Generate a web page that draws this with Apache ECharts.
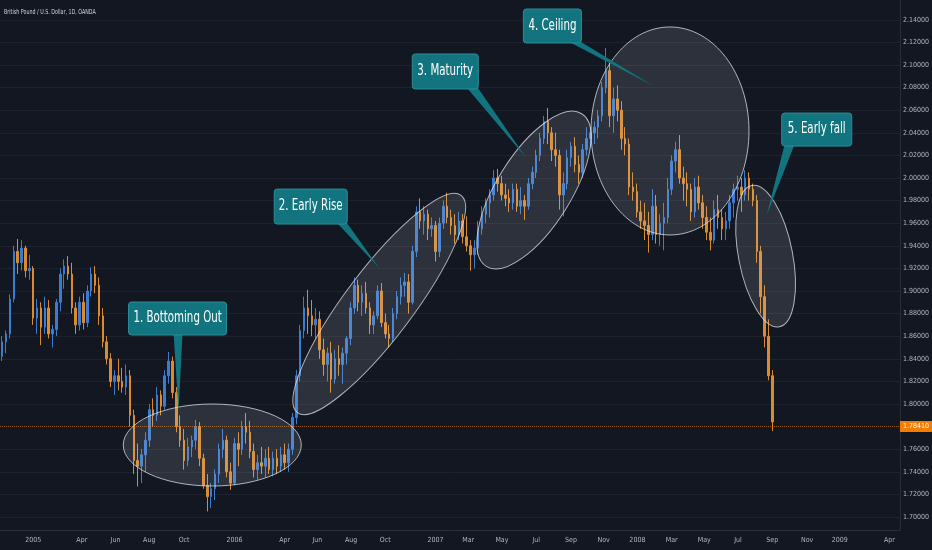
<!DOCTYPE html>
<html>
<head>
<meta charset="utf-8">
<script src="https://cdn.jsdelivr.net/npm/echarts@6/dist/echarts.min.js"></script>
<style>
  html, body { margin: 0; padding: 0; background: #131722; }
  #chart { width: 932px; height: 550px; }
</style>
</head>
<body>
<div id="chart"></div>
<script>
// GBP/USD, weekly bars (first bar = week of 2004-11-08)
const firstWeek = [2004, 10, 8];

const open = [
  1.842, 1.855, 1.862, 1.893, 1.935, 1.925, 1.938, 1.918, 1.920, 1.876,
  1.885, 1.868, 1.885, 1.862, 1.866, 1.890, 1.915, 1.922, 1.915, 1.885,
  1.870, 1.890, 1.872, 1.900, 1.915, 1.905, 1.878, 1.855, 1.840, 1.820,
  1.825, 1.820, 1.815, 1.825, 1.790, 1.750, 1.745, 1.755, 1.768, 1.795,
  1.790, 1.808, 1.798, 1.825, 1.838, 1.810, 1.780, 1.768, 1.750, 1.762,
  1.768, 1.780, 1.752, 1.728, 1.718, 1.725, 1.738, 1.760, 1.768, 1.740,
  1.730, 1.765, 1.760, 1.780, 1.775, 1.758, 1.742, 1.748, 1.745, 1.752,
  1.742, 1.752, 1.745, 1.755, 1.748, 1.760, 1.788, 1.825, 1.865, 1.885,
  1.878, 1.870, 1.875, 1.848, 1.835, 1.845, 1.822, 1.840, 1.835, 1.845,
  1.858, 1.885, 1.905, 1.890, 1.898, 1.885, 1.870, 1.878, 1.900, 1.872,
  1.862, 1.858, 1.880, 1.895, 1.905, 1.908, 1.890, 1.935, 1.970, 1.962,
  1.968, 1.955, 1.958, 1.935, 1.960, 1.975, 1.965, 1.958, 1.950, 1.962,
  1.948, 1.940, 1.932, 1.938, 1.955, 1.968, 1.978, 1.985, 2.000, 1.995,
  1.985, 1.982, 1.978, 1.990, 1.975, 1.980, 1.975, 1.995, 2.005, 2.020,
  2.035, 2.050, 2.040, 2.025, 2.020, 1.985, 1.995, 2.018, 2.028, 2.012,
  2.005, 2.025, 2.035, 2.040, 2.045, 2.055, 2.080, 2.095, 2.055, 2.070,
  2.060, 2.035, 2.030, 1.992, 1.988, 1.970, 1.962, 1.958, 1.950, 1.975,
  1.950, 1.960, 1.965, 1.990, 2.015, 2.025, 2.000, 1.995, 1.990, 1.970,
  1.992, 1.978, 1.965, 1.952, 1.945, 1.972, 1.965, 1.955, 1.962, 1.978,
  1.990, 1.992, 1.985, 2.000, 1.990, 1.980, 1.935, 1.895, 1.860, 1.825
];
const close = [
  1.855, 1.862, 1.893, 1.935, 1.925, 1.938, 1.918, 1.920, 1.876, 1.885,
  1.868, 1.885, 1.862, 1.866, 1.890, 1.915, 1.922, 1.915, 1.885, 1.870,
  1.890, 1.872, 1.900, 1.915, 1.905, 1.878, 1.855, 1.840, 1.820, 1.825,
  1.820, 1.815, 1.825, 1.790, 1.750, 1.745, 1.755, 1.768, 1.795, 1.790,
  1.808, 1.798, 1.825, 1.838, 1.810, 1.780, 1.768, 1.750, 1.762, 1.768,
  1.780, 1.752, 1.728, 1.718, 1.725, 1.738, 1.760, 1.768, 1.740, 1.730,
  1.765, 1.760, 1.780, 1.775, 1.758, 1.742, 1.748, 1.745, 1.752, 1.742,
  1.752, 1.745, 1.755, 1.748, 1.760, 1.788, 1.825, 1.865, 1.885, 1.878,
  1.870, 1.875, 1.848, 1.835, 1.845, 1.822, 1.840, 1.835, 1.845, 1.858,
  1.885, 1.905, 1.890, 1.898, 1.885, 1.870, 1.878, 1.900, 1.872, 1.862,
  1.858, 1.880, 1.895, 1.905, 1.908, 1.890, 1.935, 1.970, 1.962, 1.968,
  1.955, 1.958, 1.935, 1.960, 1.975, 1.965, 1.958, 1.950, 1.962, 1.948,
  1.940, 1.932, 1.938, 1.955, 1.968, 1.978, 1.985, 2.000, 1.995, 1.985,
  1.982, 1.978, 1.990, 1.975, 1.980, 1.975, 1.995, 2.005, 2.020, 2.035,
  2.050, 2.040, 2.025, 2.020, 1.985, 1.995, 2.018, 2.028, 2.012, 2.005,
  2.025, 2.035, 2.040, 2.045, 2.055, 2.080, 2.095, 2.055, 2.070, 2.060,
  2.035, 2.030, 1.992, 1.988, 1.970, 1.962, 1.958, 1.950, 1.975, 1.950,
  1.960, 1.965, 1.990, 2.015, 2.025, 2.000, 1.995, 1.990, 1.970, 1.992,
  1.978, 1.965, 1.952, 1.945, 1.972, 1.965, 1.955, 1.962, 1.978, 1.990,
  1.992, 1.985, 2.000, 1.990, 1.980, 1.935, 1.895, 1.860, 1.825, 1.7841
];
const low = [
  1.838, 1.845, 1.858, 1.890, 1.915, 1.918, 1.912, 1.910, 1.870, 1.862,
  1.852, 1.862, 1.858, 1.850, 1.860, 1.882, 1.902, 1.910, 1.880, 1.862,
  1.865, 1.866, 1.868, 1.895, 1.898, 1.870, 1.850, 1.835, 1.815, 1.808,
  1.812, 1.810, 1.808, 1.780, 1.738, 1.727, 1.730, 1.740, 1.762, 1.780,
  1.785, 1.790, 1.795, 1.818, 1.805, 1.775, 1.762, 1.742, 1.745, 1.753,
  1.760, 1.745, 1.725, 1.705, 1.708, 1.715, 1.730, 1.752, 1.735, 1.724,
  1.728, 1.745, 1.755, 1.765, 1.752, 1.735, 1.733, 1.738, 1.735, 1.738,
  1.736, 1.738, 1.740, 1.742, 1.740, 1.755, 1.782, 1.820, 1.858, 1.862,
  1.860, 1.858, 1.840, 1.825, 1.820, 1.810, 1.818, 1.825, 1.818, 1.835,
  1.852, 1.880, 1.882, 1.878, 1.880, 1.862, 1.862, 1.875, 1.868, 1.858,
  1.850, 1.855, 1.875, 1.888, 1.895, 1.880, 1.888, 1.930, 1.955, 1.950,
  1.945, 1.948, 1.926, 1.930, 1.955, 1.960, 1.950, 1.942, 1.945, 1.942,
  1.935, 1.918, 1.920, 1.932, 1.950, 1.960, 1.965, 1.980, 1.988, 1.980,
  1.975, 1.970, 1.972, 1.970, 1.968, 1.963, 1.972, 1.990, 2.000, 2.015,
  2.030, 2.030, 2.015, 2.010, 1.972, 1.966, 1.990, 2.010, 2.005, 1.995,
  2.000, 2.020, 2.027, 2.030, 2.035, 2.050, 2.075, 2.045, 2.040, 2.050,
  2.025, 2.020, 1.985, 1.980, 1.965, 1.955, 1.945, 1.934, 1.945, 1.942,
  1.940, 1.936, 1.960, 1.985, 2.005, 1.995, 1.980, 1.975, 1.962, 1.965,
  1.972, 1.955, 1.945, 1.936, 1.942, 1.955, 1.945, 1.945, 1.955, 1.965,
  1.980, 1.970, 1.980, 1.980, 1.975, 1.925, 1.880, 1.850, 1.821, 1.776
];
const high = [
  1.860, 1.865, 1.897, 1.940, 1.946, 1.945, 1.940, 1.932, 1.922, 1.893,
  1.890, 1.895, 1.892, 1.870, 1.893, 1.920, 1.928, 1.931, 1.925, 1.890,
  1.895, 1.898, 1.905, 1.921, 1.922, 1.912, 1.885, 1.860, 1.845, 1.830,
  1.840, 1.832, 1.835, 1.830, 1.795, 1.765, 1.760, 1.775, 1.800, 1.805,
  1.815, 1.812, 1.830, 1.846, 1.842, 1.815, 1.790, 1.778, 1.770, 1.772,
  1.786, 1.784, 1.756, 1.738, 1.730, 1.742, 1.765, 1.778, 1.772, 1.748,
  1.770, 1.775, 1.785, 1.792, 1.785, 1.765, 1.755, 1.762, 1.760, 1.762,
  1.758, 1.760, 1.762, 1.765, 1.765, 1.792, 1.830, 1.870, 1.895, 1.901,
  1.892, 1.885, 1.882, 1.858, 1.850, 1.855, 1.848, 1.852, 1.850, 1.860,
  1.890, 1.912, 1.910, 1.905, 1.908, 1.890, 1.882, 1.905, 1.907, 1.880,
  1.870, 1.885, 1.900, 1.912, 1.916, 1.915, 1.940, 1.975, 1.982, 1.975,
  1.972, 1.965, 1.962, 1.965, 1.980, 1.987, 1.972, 1.968, 1.970, 1.968,
  1.966, 1.945, 1.945, 1.962, 1.975, 1.982, 1.990, 2.007, 2.008, 2.002,
  1.995, 1.990, 1.995, 1.995, 1.992, 1.985, 2.000, 2.010, 2.025, 2.040,
  2.055, 2.062, 2.045, 2.040, 2.025, 2.005, 2.025, 2.032, 2.036, 2.020,
  2.030, 2.045, 2.045, 2.050, 2.060, 2.085, 2.115, 2.105, 2.080, 2.082,
  2.068, 2.045, 2.035, 2.005, 1.995, 1.980, 1.978, 1.970, 1.990, 1.985,
  1.968, 1.978, 2.000, 2.020, 2.032, 2.038, 2.010, 2.005, 1.995, 2.000,
  2.002, 1.985, 1.975, 1.965, 1.980, 1.985, 1.972, 1.970, 1.985, 1.995,
  2.002, 2.000, 2.007, 2.005, 1.995, 1.985, 1.940, 1.905, 1.875, 1.830
];

const lastPrice = 1.7841;

const priceTicks = [1.70, 1.72, 1.74, 1.76, 1.78, 1.80, 1.82, 1.84, 1.86, 1.88, 1.90,
  1.92, 1.94, 1.96, 1.98, 2.00, 2.02, 2.04, 2.06, 2.08, 2.10, 2.12, 2.14];

const timeTicks = ['2005-01-03', '2005-04-01', '2005-06-01', '2005-08-01', '2005-10-03',
  '2006-01-02', '2006-04-03', '2006-06-01', '2006-08-01', '2006-10-02',
  '2007-01-01', '2007-03-01', '2007-05-01', '2007-07-02', '2007-09-03', '2007-11-01',
  '2008-01-01', '2008-03-03', '2008-05-01', '2008-07-01', '2008-09-01', '2008-11-03',
  '2009-01-01', '2009-04-01'];
const timeTickText = ['2005', 'Apr', 'Jun', 'Aug', 'Oct',
  '2006', 'Apr', 'Jun', 'Aug', 'Oct',
  '2007', 'Mar', 'May', 'Jul', 'Sep', 'Nov',
  '2008', 'Mar', 'May', 'Jul', 'Sep', 'Nov',
  '2009', 'Apr'];

// phase ellipses: centre in data space, radii / tilt in pixels
const ellipses = [
  { center: ['2005-11-23', 1.7637], rx: 89, ry: 41, angle: 0 },
  { center: ['2006-09-21', 1.8885], rx: 136, ry: 34, angle: 53 },
  { center: ['2007-06-28', 1.9893], rx: 90, ry: 37, angle: 58 },
  { center: ['2008-02-29', 2.0416], rx: 79, ry: 104, angle: 0 },
  { center: ['2008-08-20', 1.9309], rx: 27, ry: 72, angle: 11 }
];

// callouts: tip in data space, box offset from tip in pixels
const callouts = [
  { text: '1. Bottoming Out', tip: ['2005-09-23', 1.7938], dx: -1, dy: -92.5, w: 98, h: 33, base: [45, 54] },
  { text: '2. Early Rise', tip: ['2006-09-21', 1.9203], dx: -68.5, dy: -61.5, w: 73, h: 35, base: [62, 72] },
  { text: '3. Maturity', tip: ['2007-06-14', 2.0177], dx: -81, dy: -86.5, w: 66, h: 35, base: [54, 65] },
  { text: '4. Ceiling', tip: ['2008-01-30', 2.0814], dx: -101, dy: -60, w: 58, h: 34, base: [44, 56] },
  { text: '5. Early fall', tip: ['2008-08-22', 1.9672], dx: 50, dy: -85.5, w: 70, h: 33, base: [3, 13] }
];

function ts(s) {
  const p = s.split('-').map(Number);
  return new Date(p[0], p[1] - 1, p[2]).getTime();
}

const narrow = "'Liberation Sans Narrow', 'DejaVu Sans Condensed', sans-serif";

const bars = open.map(function (o, i) {
  const t = new Date(firstWeek[0], firstWeek[1], firstWeek[2] + 7 * i).getTime();
  return [t, o, close[i], low[i], high[i]];
});

const tickTs = timeTicks.map(ts);
const tickText = {};
tickTs.forEach(function (t, i) { tickText[t] = timeTickText[i]; });

const chart = echarts.init(document.getElementById('chart'), null, { renderer: 'canvas' });

const option = {
  backgroundColor: '#131722',
  animation: false,
  textStyle: { fontFamily: narrow },
  grid: { left: 0, right: 26, top: 0, bottom: 20 },
  xAxis: {
    type: 'value',
    min: ts('2004-11-04'),
    max: ts('2009-04-20'),
    axisLine: { show: true, lineStyle: { color: '#2a2e39' } },
    axisTick: { show: false, customValues: tickTs },
    splitLine: { show: false },
    axisLabel: {
      customValues: tickTs,
      formatter: function (v) { return tickText[v] || ''; },
      color: '#b2b5be',
      fontSize: 7,
      margin: 7,
      hideOverlap: false
    }
  },
  yAxis: {
    type: 'value',
    position: 'right',
    min: 1.6885,
    max: 2.1575,
    axisLine: { show: true, lineStyle: { color: '#2a2e39' } },
    axisTick: { show: false, customValues: priceTicks },
    splitLine: { show: true, lineStyle: { color: '#1e222d' } },
    axisLabel: {
      customValues: priceTicks,
      formatter: function (v) { return v.toFixed(5); },
      color: '#b2b5be',
      fontSize: 7,
      margin: 3
    }
  },
  series: [{
    type: 'candlestick',
    data: bars,
    barWidth: 2,
    itemStyle: {
      color: '#3b7bd0',
      color0: '#dc8a2e',
      borderColor: '#3b7bd0',
      borderColor0: '#dc8a2e',
      borderWidth: 1
    },
    markLine: {
      silent: true,
      symbol: 'none',
      data: [{ yAxis: lastPrice }],
      lineStyle: { color: 'rgba(245,124,0,0.55)', type: 'dotted', width: 1 },
      label: {
        show: true,
        position: 'end',
        distance: 0,
        formatter: '1.78410',
        color: '#ffffff',
        backgroundColor: '#f57c00',
        padding: [2, 3, 2, 3],
        fontSize: 7,
        fontFamily: narrow
      }
    }
  }]
};
chart.setOption(option);

function px(d, p) {
  return chart.convertToPixel({ xAxisIndex: 0, yAxisIndex: 0 }, [ts(d), p]);
}

const graphics = [{
  type: 'text',
  x: 4,
  y: 12,
  scaleX: 0.76,
  silent: true,
  style: {
    text: 'British Pound / U.S. Dollar, 1D, OANDA',
    fill: '#d1d4dc',
    fontSize: 7,
    fontFamily: narrow,
    verticalAlign: 'middle'
  }
}];

ellipses.forEach(function (e) {
  const c = px(e.center[0], e.center[1]);
  graphics.push({
    type: 'ellipse',
    x: c[0],
    y: c[1],
    rotation: e.angle * Math.PI / 180,
    silent: true,
    z: 100,
    shape: { cx: 0, cy: 0, rx: e.rx, ry: e.ry },
    style: { fill: 'rgba(205,210,220,0.14)', stroke: 'rgba(225,227,232,0.75)', lineWidth: 1 }
  });
});

callouts.forEach(function (c) {
  const tip = px(c.tip[0], c.tip[1]);
  const cx = tip[0] + c.dx;
  const cy = tip[1] + c.dy;
  const left = cx - c.w / 2;
  const bottom = cy + c.h / 2;
  graphics.push({
    type: 'polygon',
    silent: true,
    z: 110,
    shape: { points: [[left + c.base[0], bottom - 2], [left + c.base[1], bottom - 2], tip] },
    style: { fill: '#12747f' }
  });
  graphics.push({
    type: 'rect',
    silent: true,
    z: 111,
    shape: { x: left, y: cy - c.h / 2, width: c.w, height: c.h, r: 3 },
    style: { fill: '#12747f', stroke: '#2b8e98', lineWidth: 1 }
  });
  graphics.push({
    type: 'text',
    silent: true,
    z: 112,
    x: cx,
    y: cy,
    scaleX: 0.76,
    style: {
      text: c.text,
      fill: '#ffffff',
      fontSize: 15,
      fontFamily: narrow,
      align: 'center',
      verticalAlign: 'middle'
    }
  });
});

chart.setOption({ graphic: graphics });
</script>
</body>
</html>
